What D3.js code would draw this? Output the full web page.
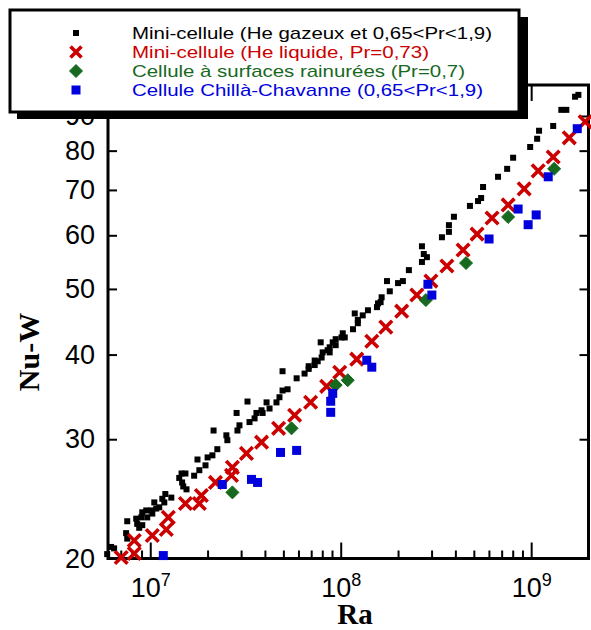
<!DOCTYPE html>
<html><head><meta charset="utf-8">
<script src="https://cdn.jsdelivr.net/npm/d3@7"></script>
<style>body{margin:0;background:#fff}svg{display:block}</style>
</head><body><svg id="c" width="591" height="630"></svg>
<script>
// Mini-cellule (He gazeux)
const gasRa = [5.94e6,6.23e6,6.46e6,7.47e6,7.57e6,7.57e6,8.44e6,8.54e6,8.75e6,8.97e6,9.08e6,9.08e6,9.53e6,9.64e6,1.01e7,1.025e7,1.05e7,1.075e7,1.115e7,1.157e7,1.185e7,1.2e7,1.29e7,1.42e7,1.46e7,1.47e7,1.49e7,1.53e7,1.55e7,1.70e7,1.77e7,1.81e7,1.95e7,2.0e7,2.12e7,2.15e7,2.25e7,2.51e7,2.54e7,2.84e7,2.94e7,2.87e7,3.24e7,3.32e7,3.53e7,3.61e7,3.89e7,4.08e7,4.23e7,3.84e7,4.60e7,4.77e7,4.95e7,5.26e7,4.95e7,5.87e7,6.46e7,6.79e7,6.79e7,7.30e7,7.30e7,7.57e7,7.94e7,8.04e7,8.54e7,8.75e7,8.75e7,9.41e7,7.85e7,9.08e7,9.41e7,1.01e8,1.05e8,1.025e8,1.16e8,1.23e8,1.23e8,1.305e8,1.185e8,1.39e8,1.55e8,1.57e8,1.62e8,1.64e8,1.81e8,1.75e8,2.0e8,2.12e8,2.28e8,2.67e8,2.835e8,2.73e8,2.67e8,3.40e8,3.70e8,3.70e8,3.93e8,4.77e8,5.26e8,5.46e8,5.59e8,6.70e8,7.48e8,8.04e8,9.88e8,1.075e9,1.10e9,1.305e9,1.44e9,1.53e9,1.70e9,1.77e9];
const gasNu = [20.3,20.8,20.7,21.8,21.4,22.7,22.9,22.5,22.2,23.0,23.4,22.4,23.55,23.0,23.55,23.3,24.2,23.7,23.8,24.5,24.2,24.9,24.6,26.3,26.7,25.9,25.55,26.7,25.3,26.5,28.0,27.0,27.45,28.2,28.4,30.9,29.0,30.4,29.9,32.8,31.45,30.9,34.1,31.8,32.2,32.8,32.8,34.0,33.3,33.1,34.0,34.6,35.4,35.55,37.8,36.9,37.5,38.1,38.45,38.6,39.2,39.1,39.6,40.3,40.6,40.3,41.0,41.3,41.7,41.7,42.15,42.4,42.4,43.0,43.6,44.5,45.0,45.7,46.0,46.5,47.0,47.6,47.8,48.6,49.6,51.35,51.0,51.35,53.3,54.8,55.7,56.3,57.8,59.6,60.7,62.1,63.9,66.3,67.4,68.1,70.7,73.2,75.2,78.1,81.0,83.3,85.6,87.0,91.9,91.9,96.1,96.7];
// Mini-cellule (He liquide)
const liqRa = [7.04e6,8.24e6,8.24e6,1.025e7,1.214e7,1.244e7,1.53e7,1.81e7,1.855e7,2.20e7,2.67e7,2.70e7,3.20e7,3.84e7,4.72e7,5.73e7,6.95e7,8.44e7,9.88e7,1.214e8,1.456e8,1.725e8,2.09e8,2.51e8,2.976e8,3.61e8,4.39e8,5.20e8,6.23e8,7.57e8,9.19e8,1.0885e9,1.305e9,1.585e9,1.92e9];
const liqNu = [20.07,20.34,21.26,21.63,22.07,23.0,24.11,24.11,24.78,25.9,26.53,27.26,28.59,29.7,31.13,32.54,34.02,35.91,37.67,39.38,41.86,43.91,46.36,48.97,51.35,54.05,57.07,60.25,63.64,66.52,70.25,74.69,78.3,83.57,88.26];
// Cellule à surfaces rainurées
const grvRa = [2.70e7,5.52e7,9.41e7,1.0885e8,2.80e8,4.55e8,7.57e8,1.32e9];
const grvNu = [25.04,31.13,36.06,36.66,48.14,54.6,63.86,75.2];
// Cellule Chillà-Chavanne
const ccRa = [1.171e7,2.39e7,3.40e7,3.66e7,4.83e7,5.87e7,8.86e7,8.86e7,9.08e7,1.37e8,1.456e8,2.87e8,3.01e8,6.01e8,8.54e8,9.64e8,1.0625e9,1.229e9,1.746e9];
const ccNu = [20.2,25.72,26.17,25.9,28.68,28.88,32.87,34.13,35.06,39.24,38.32,50.8,48.97,59.25,65.6,62.2,64.3,73.2,86.2];

const xMajor = [1e7, 1e8, 1e9];
const xMajorExp = ["7", "8", "9"];
const xMinor = [7e6,8e6,9e6,2e7,3e7,4e7,5e7,6e7,7e7,8e7,9e7,2e8,3e8,4e8,5e8,6e8,7e8,8e8,9e8];
const yTicks = [20, 30, 40, 50, 60, 70, 80, 90];

const legendLabels = [
  "Mini-cellule (He gazeux et 0,65<Pr<1,9)",
  "Mini-cellule (He liquide, Pr=0,73)",
  "Cellule à surfaces rainurées (Pr=0,7)",
  "Cellule Chillà-Chavanne (0,65<Pr<1,9)"
];
const legendTextWidths = [360, 297, 333, 351];

const RED = "#cc0000", GREEN = "#17691f", BLUE = "#0000dd";
const L = 108, R = 588.5, T = 85, B = 558.5;
const svg = d3.select("#c");
const x = d3.scaleLog().domain([6e6, 2e9]).range([L, R]);
const y = d3.scaleLog().domain([20, 100]).range([B, T]);

function styleAxis(g){ g.select(".domain").remove(); g.selectAll("line").attr("stroke","#000").attr("stroke-width",2); }

// axes
svg.append("g").attr("transform",`translate(0,${B})`)
  .call(d3.axisBottom(x).tickValues(xMinor).tickSize(-8).tickFormat(""))
  .call(styleAxis);
const xb = svg.append("g").attr("transform",`translate(0,${B})`)
  .call(d3.axisBottom(x).tickValues(xMajor).tickSize(-16).tickPadding(19).tickFormat(() => "10"))
  .call(styleAxis);
xb.selectAll("text").attr("font-family","Liberation Sans, Arial, sans-serif").attr("font-size",27).attr("fill","#000")
  .each(function(d,i){ d3.select(this).append("tspan").attr("font-size",18).attr("dy","-0.6em").text(xMajorExp[i]); });
svg.append("g").attr("transform",`translate(0,${T})`)
  .call(d3.axisTop(x).tickValues(xMinor).tickSize(-8).tickFormat("")).call(styleAxis);
svg.append("g").attr("transform",`translate(0,${T})`)
  .call(d3.axisTop(x).tickValues(xMajor).tickSize(-16).tickFormat("")).call(styleAxis);
const yl = svg.append("g").attr("transform",`translate(${L},0)`)
  .call(d3.axisLeft(y).tickValues(yTicks).tickSize(-9).tickPadding(13).tickFormat(d3.format("d")))
  .call(styleAxis);
yl.selectAll("text").attr("font-family","Liberation Sans, Arial, sans-serif").attr("font-size",27).attr("fill","#000");
svg.append("g").attr("transform",`translate(${R},0)`)
  .call(d3.axisRight(y).tickValues(yTicks).tickSize(-9).tickFormat("")).call(styleAxis);

// frame
svg.append("rect").attr("x",L).attr("y",T).attr("width",R-L).attr("height",B-T)
  .attr("fill","none").attr("stroke","#000").attr("stroke-width",3);

// titles
svg.append("text").attr("x",355).attr("y",624).attr("text-anchor","middle")
  .attr("font-family","Liberation Serif, Times New Roman, serif").attr("font-weight","bold").attr("font-size",29).text("Ra");
svg.append("text").attr("transform","translate(39,352) rotate(-90)").attr("text-anchor","middle")
  .attr("font-family","Liberation Serif, Times New Roman, serif").attr("font-weight","bold").attr("font-size",30).text("Nu-W");

// markers
function xMark(g, s, c){ g.append("path").attr("d",`M${-s},${-s}L${s},${s}M${-s},${s}L${s},${-s}`).attr("stroke",c).attr("stroke-width",3.6).attr("fill","none"); }
function diamond(g, s, c){ g.append("path").attr("d",`M0,${-s}L${s},0L0,${s}L${-s},0Z`).attr("fill",c).attr("stroke",c).attr("stroke-width",1).attr("stroke-linejoin","round"); }

const plot = svg.append("g");
plot.selectAll("rect.gas").data(d3.zip(gasRa, gasNu)).join("rect").attr("class","gas")
  .attr("x",d=>x(d[0])-3).attr("y",d=>y(d[1])-3).attr("width",6).attr("height",6).attr("fill","#000");
plot.selectAll("g.liq").data(d3.zip(liqRa, liqNu)).join("g").attr("class","liq")
  .attr("transform",d=>`translate(${x(d[0])},${y(d[1])})`).each(function(){ xMark(d3.select(this),6.3,RED); });
plot.selectAll("g.grv").data(d3.zip(grvRa, grvNu)).join("g").attr("class","grv")
  .attr("transform",d=>`translate(${x(d[0])},${y(d[1])})`).each(function(){ diamond(d3.select(this),6.5,GREEN); });
plot.selectAll("rect.cc").data(d3.zip(ccRa, ccNu)).join("rect").attr("class","cc")
  .attr("x",d=>x(d[0])-4.5).attr("y",d=>y(d[1])-4.5).attr("width",9).attr("height",9).attr("fill",BLUE);

// legend
const lg = svg.append("g");
lg.append("rect").attr("x",17).attr("y",17).attr("width",511).attr("height",102).attr("fill","#000");
lg.append("rect").attr("x",10).attr("y",10).attr("width",509).attr("height",102).attr("fill","#fff").attr("stroke","#000").attr("stroke-width",3);
const cols = ["#000", RED, GREEN, BLUE];
const rowsY = [33, 52, 71, 90];
legendLabels.forEach((t,i)=>{
  const gy = rowsY[i];
  const s = lg.append("g").attr("transform",`translate(76,${gy})`);
  if(i===0) s.append("rect").attr("x",-3).attr("y",-3).attr("width",6).attr("height",6).attr("fill","#000");
  if(i===1) xMark(s,5.5,RED);
  if(i===2) diamond(s,6.5,GREEN);
  if(i===3) s.append("rect").attr("x",-4.5).attr("y",-4.5).attr("width",9).attr("height",9).attr("fill",BLUE);
  lg.append("text").attr("x",132).attr("y",gy+6.3).attr("font-family","Liberation Sans, Arial, sans-serif")
    .attr("font-size",17).attr("textLength",legendTextWidths[i]).attr("lengthAdjust","spacingAndGlyphs")
    .attr("fill",cols[i]).text(t);
});
</script>
</body></html>
